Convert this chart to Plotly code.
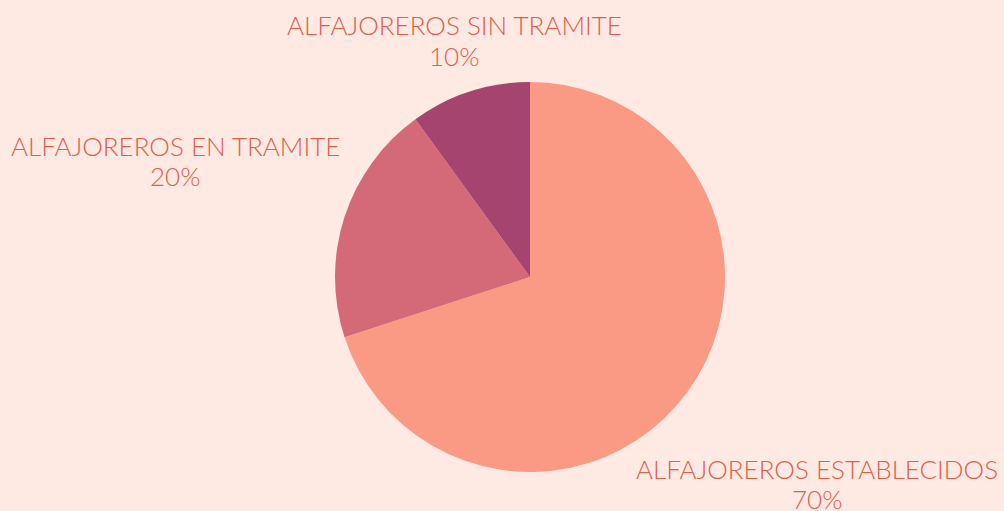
import plotly.graph_objects as go

categories = ["ALFAJOREROS ESTABLECIDOS", "ALFAJOREROS EN TRAMITE", "ALFAJOREROS SIN TRAMITE"]
values = [70, 20, 10]
colors = ["#FA9A85", "#D46A78", "#A4446F"]

W, H = 1004, 511
BG = "#FFE9E3"
TXT = "#E0604A"

fig = go.Figure(go.Pie(
    labels=categories,
    values=values,
    sort=False,
    direction="clockwise",
    rotation=0,
    marker=dict(colors=colors, line=dict(width=0)),
    textinfo="none",
    hoverinfo="label+percent",
    domain=dict(x=[(530 - 195) / W, (530 + 195) / W], y=[1 - 472 / H, 1 - 82 / H]),
    showlegend=False,
))

# label positions: (x center, name line y, percent line y) in pixels
label_pos = [(817, 470, 500), (175, 147, 177), (454, 26, 57)]
total = sum(values)
font = dict(family="Lato", size=26, color=TXT, weight=300)
for cat, v, (px, py1, py2) in zip(categories, values, label_pos):
    fig.add_annotation(
        x=px / W, y=1 - (py1 - 1) / H, xref="paper", yref="paper",
        text=cat, showarrow=False, xanchor="center", yanchor="middle", font=font,
    )
    fig.add_annotation(
        x=px / W, y=1 - (py2 - 1) / H, xref="paper", yref="paper",
        text=f"{round(100 * v / total)}%", showarrow=False,
        xanchor="center", yanchor="middle", font=font,
    )

fig.update_layout(
    width=W, height=H,
    margin=dict(l=0, r=0, t=0, b=0),
    paper_bgcolor=BG, plot_bgcolor=BG,
)

fig.write_html(
    "out.html",
    config={"displayModeBar": False},
    post_script="document.body.style.margin='0';document.body.style.background='" + BG + "';",
)
